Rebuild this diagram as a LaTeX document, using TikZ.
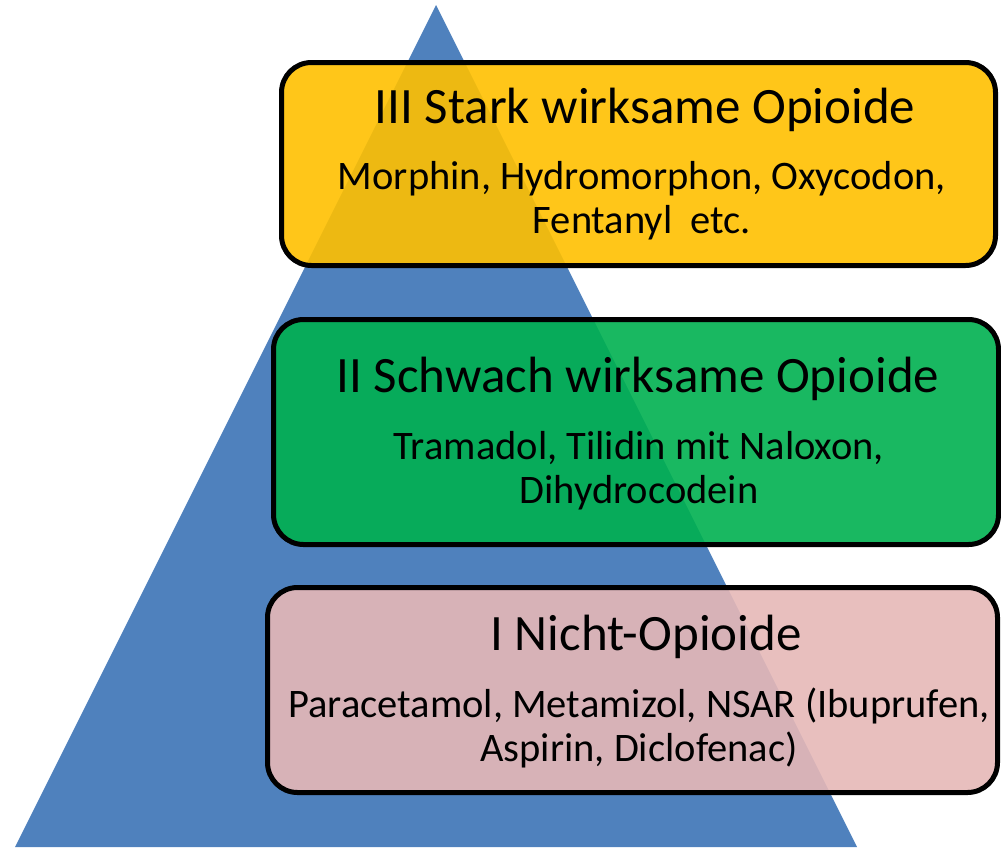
\documentclass[tikz,border=0pt]{standalone}
\usepackage{fontspec}
\setmainfont{Carlito}
\definecolor{pyrblue}{HTML}{4F81BD}
\definecolor{lvlyellow}{HTML}{FFC000}
\definecolor{lvlgreen}{HTML}{00B050}
\definecolor{lvlpink}{HTML}{E6B8B7}
\tikzset{
  levelbox/.style={draw=black, line width=5pt, rounded corners=30pt, fill opacity=0.9, inner sep=0pt},
  leveltitle/.style={anchor=base, inner sep=0pt, font=\fontsize{51}{60}\selectfont},
  levelsub/.style={anchor=base, inner sep=0pt, align=center, font=\fontsize{40.5}{44}\selectfont},
}
\begin{document}
\begin{tikzpicture}[x=1pt, y=-1pt]
\useasboundingbox (0,0) rectangle (1001,847);
\begin{scope}
\clip (0,0) rectangle (1001,847);
\fill[pyrblue] (436,5) -- (15,847) -- (857,847) -- cycle;
\end{scope}
% boxes
\node[levelbox, fill=lvlyellow, minimum width=714pt, minimum height=203pt] (b3) at (638.5,164) {};
\node[levelbox, fill=lvlgreen, minimum width=725pt, minimum height=225pt] (b2) at (636,432) {};
\node[levelbox, fill=lvlpink, minimum width=730pt, minimum height=205pt] (b1) at (632.5,690) {};
% texts (sub-text anchors are at the baseline of the second line)
\node[leveltitle] (t3) at (645,123) {III Stark wirksame Opioide};
\node[levelsub] (s3) at (642,233) {Morphin, Hydromorphon, Oxycodon,\\Fentanyl\ \ etc.};
\node[leveltitle] (t2) at (638,392) {II Schwach wirksame Opioide};
\node[levelsub] (s2) at (639,503) {Tramadol, Tilidin mit Naloxon,\\Dihydrocodein};
\node[leveltitle] (t1) at (646,650) {I Nicht-Opioide};
\node[levelsub] (s1) at (639,761) {Paracetamol, Metamizol, NSAR (Ibuprufen,\\Aspirin, Diclofenac)};
\end{tikzpicture}
\end{document}
